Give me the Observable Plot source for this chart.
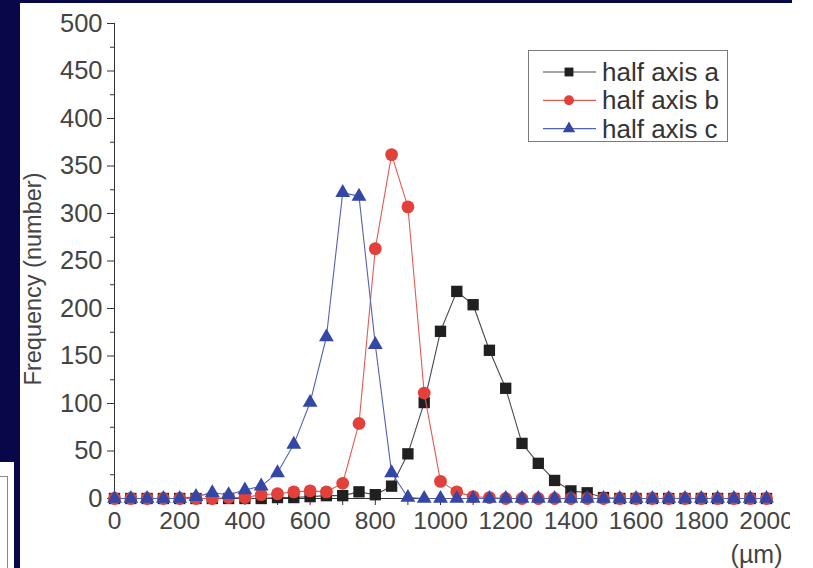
<!DOCTYPE html>
<html>
<head>
<meta charset="utf-8">
<script src="https://cdn.jsdelivr.net/npm/d3@7"></script>
<script src="https://cdn.jsdelivr.net/npm/@observablehq/plot@0.6"></script>
<style>
html, body { margin: 0; padding: 0; background: #fff; overflow: hidden; }
#wrap { position: relative; width: 813px; height: 568px; background: #fff; }
.navy { position: absolute; background: #07074a; }
#chart { position: absolute; left: 0; top: 0; width: 813px; height: 568px; clip-path: inset(0 23px 0 0); }
#chart svg { max-width: none !important; }
#legend { position: absolute; left: 528px; top: 50px; }
</style>
</head>
<body>
<div id="wrap">
  <div class="navy" style="left:0;top:0;width:792px;height:3px"></div>
  <div class="navy" style="left:0;top:0;width:20px;height:462px"></div>
  <div class="navy" style="left:14px;top:462px;width:6px;height:106px"></div>
  <div style="position:absolute;left:0;top:476px;width:8px;height:92px;border-top:1px solid #888;border-right:1px solid #888;box-sizing:border-box"></div>
  <div id="chart"></div>
  <div id="legend"></div>
</div>
<script>
// Particle size classes (µm)
const sizes = [0, 50, 100, 150, 200, 250, 300, 350, 400, 450,
  500, 550, 600, 650, 700, 750, 800, 850, 900, 950,
  1000, 1050, 1100, 1150, 1200, 1250, 1300, 1350, 1400, 1450,
  1500, 1550, 1600, 1650, 1700, 1750, 1800, 1850, 1900, 1950, 2000];

// Frequencies (number)
const halfAxisA = [0, 0, 0, 0, 0, 0, 0, 0, 0, 0,
  1, 1, 2, 3, 3, 7, 4, 13, 47, 101,
  176, 218, 204, 156, 116, 58, 37, 19, 8, 6,
  1, 0, 0, 0, 0, 0, 0, 0, 0, 0, 0];
const halfAxisB = [0, 0, 0, 0, 0, 0, 0, 1, 1, 4,
  5, 7, 8, 7, 16, 79, 263, 362, 307, 111,
  18, 7, 2, 1, 0, 0, 0, 0, 0, 0,
  0, 0, 0, 0, 0, 0, 0, 0, 0, 0, 0];
const halfAxisC = [0, 0, 0, 0, 0, 2, 6, 4, 9, 13,
  27, 57, 101, 170, 322, 318, 162, 27, 1, 0,
  0, 0, 0, 0, 0, 0, 0, 0, 0, 0,
  0, 0, 0, 0, 0, 0, 0, 0, 0, 0, 0];

const seriesNames = ["half axis a", "half axis b", "half axis c"];
const xTicks = [0, 200, 400, 600, 800, 1000, 1200, 1400, 1600, 1800, 2000];
const xMinorTicks = [100, 300, 500, 700, 900, 1100, 1300, 1500, 1700, 1900];
const yTicks = [0, 50, 100, 150, 200, 250, 300, 350, 400, 450, 500];
const yMinorTicks = [25, 75, 125, 175, 225, 275, 325, 375, 425, 475];
const yLabel = "Frequency (number)";
const xLabel = "(µm)";

const styles = [
  {symbol: "square", fill: "#202020", line: "#4a4a4a", r: 6.4},
  {symbol: "circle", fill: "#e2403a", line: "#e45a55", r: 6.4},
  {symbol: "triangle", fill: "#3446a6", line: "#5363b4", r: 5.5}
];
const allSeries = [halfAxisA, halfAxisB, halfAxisC];

const tables = allSeries.map(vals => sizes.map((s, i) => ({size: s, freq: vals[i]})));

const font = "'Liberation Sans', Arial, Helvetica, sans-serif";

const seriesMarks = [];
tables.forEach((t, k) => {
  seriesMarks.push(Plot.line(t, {x: "size", y: "freq", stroke: styles[k].line, strokeWidth: 1.1}));
  seriesMarks.push(Plot.dot(t, {x: "size", y: "freq", symbol: styles[k].symbol, r: styles[k].r, fill: styles[k].fill, stroke: "none"}));
});

const chart = Plot.plot({
  width: 813,
  height: 568,
  marginLeft: 114,
  marginRight: 47,
  marginTop: 23,
  marginBottom: 70,
  x: {domain: [0, 2000]},
  y: {domain: [0, 500]},
  style: {fontFamily: font, background: "transparent", color: "#333", overflow: "visible", maxWidth: "none"},
  marks: [
    Plot.axisY({ticks: yTicks, tickSize: 7, tickPadding: 5, fontSize: 25.5, tickFormat: d => String(d), label: null, stroke: "#333", fill: "#444"}),
    Plot.axisY({ticks: yMinorTicks, tickSize: 4, text: null, label: null, stroke: "#333"}),
    Plot.axisX({ticks: xMinorTicks, tickSize: 7, text: null, label: null, stroke: "#333"}),
    Plot.axisX({ticks: xTicks, tickSize: 7, tickPadding: 6, fontSize: 24.5, tickFormat: d => String(d), label: null, stroke: "#333", fill: "#444"}),
    Plot.ruleX([0], {y1: 0, y2: 500, stroke: "#333"}),
    Plot.ruleY([0], {x1: 0, x2: 2000, stroke: "#333"}),
    ...seriesMarks,
    Plot.text([yLabel], {frameAnchor: "left", rotate: -90, dx: -81, dy: 18, fontSize: 23.5, fill: "#444", textAnchor: "middle", lineAnchor: "middle"}),
    Plot.text([xLabel], {frameAnchor: "bottom-right", dx: 16, dy: 56, fontSize: 25, fill: "#444", textAnchor: "end", lineAnchor: "middle"})
  ]
});
document.getElementById("chart").appendChild(chart);

// Legend
const lg = d3.select("#legend").append("svg")
  .attr("width", 202).attr("height", 94)
  .style("overflow", "visible");
lg.append("rect").attr("x", 0.5).attr("y", 0.5).attr("width", 199).attr("height", 91)
  .attr("fill", "#fff").attr("stroke", "#7a7a7a").attr("stroke-width", 1);
const symMap = {square: d3.symbolSquare, circle: d3.symbolCircle, triangle: d3.symbolTriangle};
seriesNames.forEach((name, k) => {
  const cy = 22 + k * 28.3;
  const g = lg.append("g");
  g.append("line").attr("x1", 15).attr("x2", 68).attr("y1", cy).attr("y2", cy)
    .attr("stroke", styles[k].line).attr("stroke-width", 1.2);
  const rr = k === 2 ? 4.6 : 5;
  g.append("path").attr("transform", `translate(41,${cy})`)
    .attr("d", d3.symbol(symMap[styles[k].symbol], Math.PI * rr * rr)())
    .attr("fill", styles[k].fill);
  g.append("text").attr("x", 74).attr("y", cy).attr("dy", "0.35em")
    .attr("font-family", font).attr("font-size", 26).attr("fill", "#333")
    .text(name);
});
</script>
</body>
</html>
